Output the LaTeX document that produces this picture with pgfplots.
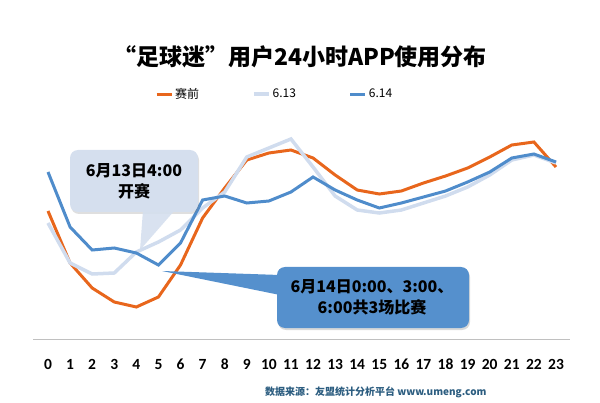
\documentclass[border=0pt]{standalone}
\usepackage{pgfplots}
\pgfplotsset{compat=1.18}
\usepackage{pgfplotstable}
\usepackage{fontspec}
\newfontfamily\cjk{Noto Sans CJK SC}
\newfontfamily\calib{Carlito}
\usetikzlibrary{shadows}
\definecolor{corange}{HTML}{E8661C}
\definecolor{clight}{HTML}{D0DCEE}
\definecolor{cdark}{HTML}{4F8CCB}
\definecolor{cbox1}{HTML}{D5DFEE}
\definecolor{cbox2}{HTML}{5590CD}
\definecolor{csource}{HTML}{2C5D80}
\definecolor{caxis}{HTML}{C0C0C0}

\pgfplotstableread{
h pre d13 d14
0 129 117 168
1 77 77 113
2 52 66 90
3 38 67 92
4 33 88 87
5 43 98 75
6 75 110 97
7 122 132 140
8 152 148 144
9 180 183 137
10 187 192 139
11 190 201 148
12 182 173 163
13 165 144 150
14 150 130 140
15 146 127 132
16 149 130 137
17 157 137 143
18 164 144 149
19 172 153 158
20 183 165 168
21 195 180 182
22 198 185 186
23 173 177 178
}\datatable

\begin{document}
\begin{tikzpicture}[x=1pt,y=1pt]
\path[use as bounding box] (0,0) rectangle (600,402);
\begin{axis}[
  at={(33pt,63pt)}, anchor=south west,
  scale only axis, width=537pt, height=209pt,
  xmin=-0.679, xmax=23.634, ymin=1, ymax=210,
  axis x line=bottom, axis y line=none,
  x axis line style={-, draw=caxis, line width=1pt},
  xtick={0,...,23}, major tick length=0pt,
  /pgf/number format/assume math mode=true,
  xticklabel style={font=\calib\bfseries\fontsize{15.5}{16}\selectfont, anchor=base, yshift=-30pt},
  clip=false,
  legend columns=3,
  legend style={at={(0.227,1.21)}, anchor=north west, draw=none, fill=none, inner sep=0pt,
    font=\cjk\fontsize{12}{13}\selectfont,
    /tikz/every even column/.append style={column sep=51pt}},
  legend image code/.code={\draw[#1] (0pt,0pt) -- (15pt,0pt);},
]
\addplot[corange, line width=3pt] table[x=h, y=pre] {\datatable};
\addlegendentry{赛前}
\addplot[clight, line width=3.5pt] table[x=h, y=d13] {\datatable};
\addlegendentry{6.13}
\addplot[cdark, line width=3pt] table[x=h, y=d14] {\datatable};
\addlegendentry{6.14}
\end{axis}

% title
\node[font=\cjk\bfseries\fontsize{23}{23}\selectfont] at (300,345) {“足球迷”用户24小时APP使用分布};

% callout 1
\fill[cbox1, rounded corners=8pt, drop shadow={opacity=0.25, shadow xshift=1pt, shadow yshift=-2pt}] (70,190) rectangle (198,252);
\fill[cbox1, opacity=0.9] (143,192) -- (140,152) -- (175,192) -- cycle;
\node[font=\cjk\bfseries\fontsize{16}{21}\selectfont, align=center] at (134,221) {6月13日4:00\\开赛};

% callout 2
\fill[cbox2, rounded corners=8pt, drop shadow={opacity=0.3, shadow xshift=1pt, shadow yshift=-2pt}] (277,74) rectangle (469,135);
\fill[cbox2] (280,127) -- (162,131) -- (280,107) -- cycle;
\node[font=\cjk\bfseries\fontsize{16}{21}\selectfont, align=center] at (372,105) {6月14日0:00、3:00、\\6:00共3场比赛};

% source
\node[anchor=east, font=\cjk\bfseries\fontsize{10}{12}\selectfont, text=csource] at (490,10) {数据来源：友盟统计分析平台 www.umeng.com};
\end{tikzpicture}
\end{document}
